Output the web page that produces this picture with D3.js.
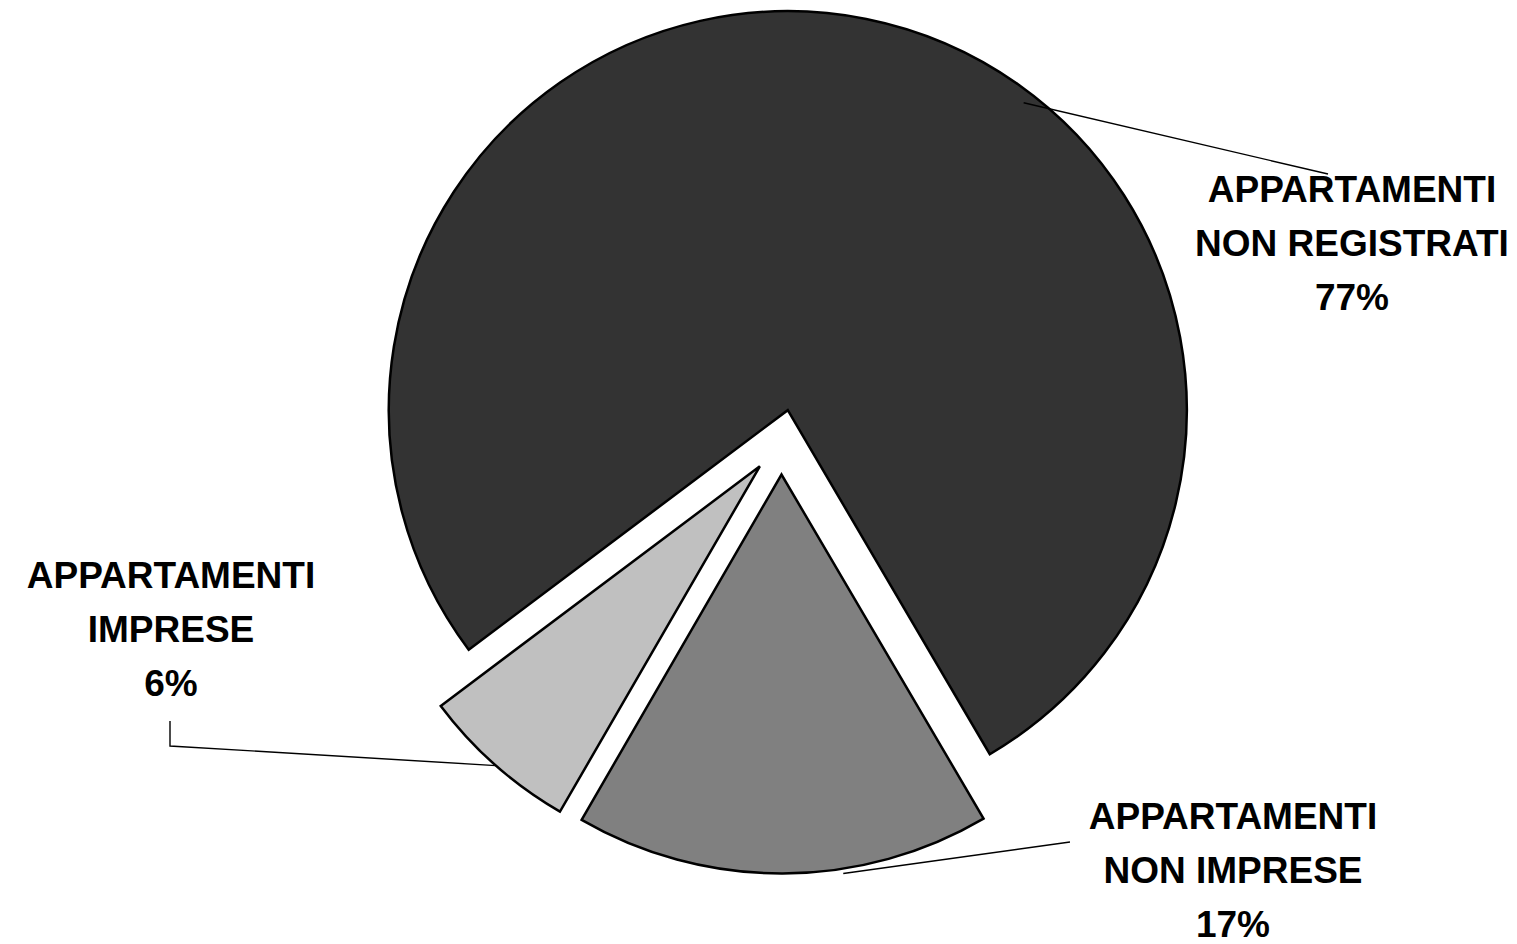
<!DOCTYPE html>
<html>
<head>
<meta charset="utf-8">
<script src="https://cdn.jsdelivr.net/npm/d3@7"></script>
<style>
  html, body { margin: 0; padding: 0; background: #ffffff; }
  svg { display: block; }
  text { font-family: "Liberation Sans", Arial, sans-serif; font-weight: bold; }
</style>
</head>
<body>
<svg id="chart" width="1517" height="944"></svg>
<script>
// ---- data ----
const categories = ["APPARTAMENTI NON REGISTRATI", "APPARTAMENTI NON IMPRESE", "APPARTAMENTI IMPRESE"];
const values = [76.8, 16.8, 6.4];
const labelLines = [
  ["APPARTAMENTI", "NON REGISTRATI"],
  ["APPARTAMENTI", "NON IMPRESE"],
  ["APPARTAMENTI", "IMPRESE"]
];
const colors = ["#333333", "#808080", "#c0c0c0"];

// ---- layout ----
const W = 1517, H = 944;
const cx = 781.4, cy = 442, radius = 399, explode = 32.5;
const startDeg = 233.1;
const fontSize = 37, lineGap = 54;
// label block: x center, first baseline; leader: start on slice (angle deg, radius factor), then points
const labelLayout = [
  { x: 1352, y: 202, leadAngle: 37.5, leadR: 0.971, path: [[1328, 174]] },
  { x: 1233, y: 829, leadAngle: 171.2, leadR: 1.012, path: [[1070, 842]] },
  { x: 171,  y: 588, leadAngle: 221.4, leadR: 1.0,   path: [[170, 746], [170, 721]] }
];

const rad = d => d * Math.PI / 180;
const svg = d3.select("#chart");
const total = d3.sum(values);
const pct = d3.format(".0%");

const pie = d3.pie().sort(null)
  .startAngle(rad(startDeg))
  .endAngle(rad(startDeg) + 2 * Math.PI);
const arcs = pie(values);
const arc = d3.arc().innerRadius(0).outerRadius(radius);

// slice offset along its bisector
function offset(a) {
  const mid = (a.startAngle + a.endAngle) / 2;
  return [cx + explode * Math.sin(mid), cy - explode * Math.cos(mid)];
}

const g = svg.append("g");
g.selectAll("path.slice")
  .data(arcs)
  .join("path")
  .attr("class", "slice")
  .attr("transform", d => { const o = offset(d); return `translate(${o[0]},${o[1]})`; })
  .attr("d", arc)
  .attr("fill", (d, i) => colors[i])
  .attr("stroke", "#000")
  .attr("stroke-width", 2.5)
  .attr("stroke-linejoin", "miter");

// leader lines
const line = d3.line();
arcs.forEach((a, i) => {
  const L = labelLayout[i];
  const o = offset(a);
  const ang = rad(L.leadAngle);
  const p0 = [o[0] + radius * L.leadR * Math.sin(ang), o[1] - radius * L.leadR * Math.cos(ang)];
  svg.append("path")
    .attr("d", line([p0, ...L.path]))
    .attr("fill", "none")
    .attr("stroke", "#000")
    .attr("stroke-width", 1.4);
});

// labels
arcs.forEach((a, i) => {
  const L = labelLayout[i];
  const lines = [...labelLines[i], pct(values[i] / total)];
  const t = svg.append("text")
    .attr("text-anchor", "middle")
    .attr("font-size", fontSize)
    .attr("fill", "#000");
  lines.forEach((s, k) => {
    t.append("tspan").attr("x", L.x).attr("y", L.y + k * lineGap).text(s);
  });
});
</script>
</body>
</html>
